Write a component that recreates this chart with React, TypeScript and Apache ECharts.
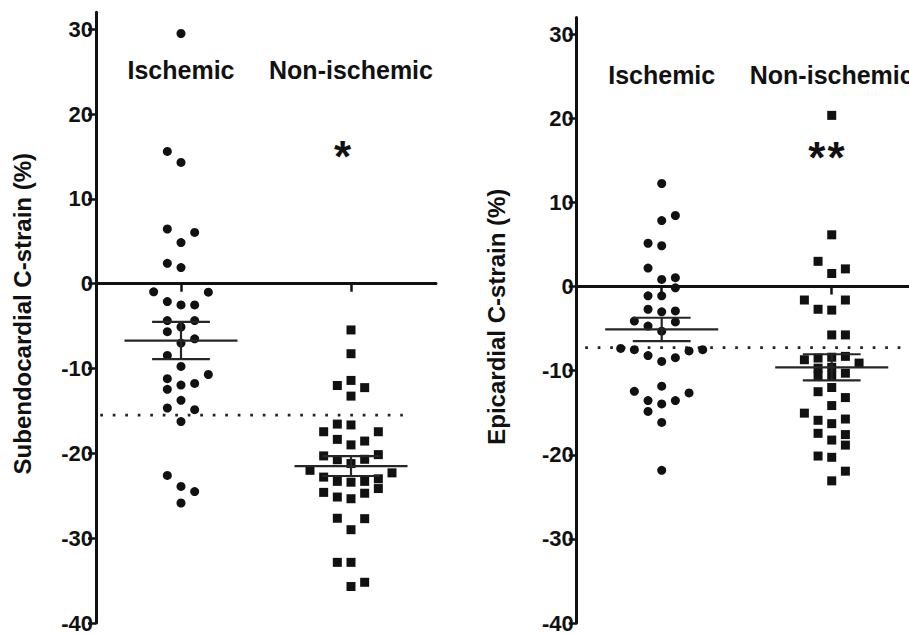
import React, { useEffect, useRef } from 'react';
import * as echarts from 'echarts';

// ---------- data ----------
const categories = ['Ischemic', 'Non-ischemic'];
const categoryX = [1, 3];
const yTicks = [-40, -30, -20, -10, 0, 10, 20, 30];
const panelTitles = ['Subendocardial C-strain (%)', 'Epicardial C-strain (%)'];

// Subendocardial panel
const subIschValues = [29.5, 15.6, 14.3, 6.45, 6.05, 4.85, 2.4, 1.9, -0.95, -1.0, -2.1, -2.5, -2.5, -4.35, -4.35, -5.1, -5.65, -6.5, -7.0, -8.45, -9.75, -10.7, -11.2, -11.95, -11.75, -12.45, -13.75, -14.65, -14.85, -16.25, -22.6, -23.9, -24.5, -25.85];
const subIschSlots = [0, -1, 0, -1, 1, 0, -1, 0, -2, 2, -1, 0, 1, -1, 1, 0, -1, 1, 0, -1, 0, 2, -1, 0, 1, -1, 0, -1, 1, 0, -1, 0, 1, 0];
const subNonValues = [-5.45, -8.25, -12.0, -11.4, -12.25, -13.25, -16.55, -16.65, -17.45, -17.45, -18.35, -18.55, -19.0, -20.3, -20.15, -20.75, -20.7, -21.2, -22.0, -22.3, -22.8, -23.3, -23.4, -23.3, -23.0, -24.15, -24.6, -25.15, -25.35, -24.7, -27.65, -27.7, -29.0, -32.85, -32.85, -35.7, -35.2];
const subNonSlots = [0, 0, -1, 0, 1, 0, -1, 0, -2, 2, -1, 1, 0, -2, 2, -1, 1, 0, -3, 3, -2, -1, 0, 1, 2, 2, -2, -1, 0, 1, -1, 1, 0, -1, 0, 0, 1];
const subMeans = [-6.7, -21.5];
const subSems = [2.2, 1.17];
const subThreshold = -15.5;
const subStars = ['*'];
const subStarX = [2.9];
const subStarY = 15.9;

// Epicardial panel
const epiIschValues = [12.25, 7.85, 8.45, 5.15, 4.85, 2.2, 0.85, 1.05, -0.15, -1.1, -1.1, -2.7, -3.0, -2.9, -4.1, -4.2, -4.7, -5.3, -7.35, -7.5, -8.2, -8.9, -8.45, -7.65, -7.5, -12.45, -11.85, -12.65, -13.55, -13.95, -13.55, -14.85, -16.15, -21.85];
const epiIschSlots = [0, 0, 1, -1, 0, -1, 0, 1, 1, -1, 0, -1, 0, 1, -2, 1, -1, 0, -3, -2, -1, 0, 1, 2, 3, -2, 0, 2, -1, 0, 1, -1, 0, 0];
const epiNonValues = [20.35, 6.15, 3.0, 1.55, 2.1, -1.6, -1.6, -2.7, -2.8, -5.75, -5.75, -8.7, -8.5, -8.4, -8.3, -9.1, -9.7, -9.6, -10.6, -10.6, -10.3, -12.5, -12.0, -13.2, -14.15, -15.05, -15.9, -16.3, -15.75, -17.45, -18.25, -17.6, -18.85, -20.15, -20.3, -21.95, -23.1];
const epiNonSlots = [0, 0, -1, 0, 1, -2, 1, -1, 0, 0, 1, -2, -1, 0, 1, 2, -1, 0, -1, 0, 1, -1, 0, 1, 0, -2, -1, 0, 1, -1, 0, 1, 1, -1, 0, 1, 0];
const epiMeans = [-5.1, -9.6];
const epiSems = [1.39, 1.55];
const epiThreshold = -7.25;
const epiStars = ['*', '*'];
const epiStarX = [2.824, 3.05];
const epiStarY = 16.25;

const labelY = 25.2;

// ---------- styling / layout constants ----------
const SLOT = 0.1608; // horizontal jitter step in x-units
const MEAN_HALF = 0.665;
const CAP_HALF = 0.34;
const FONT = "'Liberation Sans', Arial, Helvetica, sans-serif";
const INK = '#111111';

const toPoints = (cx: number, values: number[], slots: number[]) =>
  values.map((v, i) => [cx + slots[i] * SLOT, v]);

const renderErrorBar = (params: any, api: any) => {
  const x = api.value(0);
  const m = api.value(1);
  const s = api.value(2);
  const c = api.coord([x, m]);
  const top = api.coord([x, m + s]);
  const bot = api.coord([x, m - s]);
  const hm = api.size([MEAN_HALF, 0])[0];
  const hc = api.size([CAP_HALF, 0])[0];
  const style = { stroke: '#262626', lineWidth: 2.2 };
  return {
    type: 'group',
    children: [
      { type: 'line', shape: { x1: c[0] - hm, y1: c[1], x2: c[0] + hm, y2: c[1] }, style },
      { type: 'line', shape: { x1: c[0], y1: top[1], x2: c[0], y2: bot[1] }, style },
      { type: 'line', shape: { x1: c[0] - hc, y1: top[1], x2: c[0] + hc, y2: top[1] }, style },
      { type: 'line', shape: { x1: c[0] - hc, y1: bot[1], x2: c[0] + hc, y2: bot[1] }, style },
    ],
  };
};

function panelSeries(
  idx: number,
  isch: number[][],
  non: number[][],
  means: number[],
  sems: number[],
  threshold: number,
  thrStart: number,
  thrEnd: number,
  stars: string[],
  starX: number[],
  starY: number
) {
  return [
    {
      type: 'line',
      xAxisIndex: idx,
      yAxisIndex: idx,
      data: [[thrStart, threshold], [thrEnd, threshold]],
      symbol: 'none',
      lineStyle: { color: '#222', width: 2.7, type: [2.7, 9.8], cap: 'butt', opacity: 1 },
      z: 1,
      silent: true,
    },
    {
      type: 'scatter',
      xAxisIndex: idx,
      yAxisIndex: idx,
      data: isch,
      symbol: 'circle',
      symbolSize: 9,
      itemStyle: { color: INK, opacity: 1 },
      z: 3,
    },
    {
      type: 'scatter',
      xAxisIndex: idx,
      yAxisIndex: idx,
      data: non,
      symbol: 'rect',
      symbolSize: 9,
      itemStyle: { color: INK, opacity: 1 },
      z: 3,
    },
    {
      type: 'custom',
      xAxisIndex: idx,
      yAxisIndex: idx,
      data: categoryX.map((x, i) => [x, means[i], sems[i]]),
      encode: { x: 0, y: 1 },
      renderItem: renderErrorBar,
      clip: false,
      z: 4,
    },
    {
      type: 'scatter',
      xAxisIndex: idx,
      yAxisIndex: idx,
      data: categoryX.map((x, i) => ({ value: [x, labelY], name: categories[i] })),
      symbolSize: 1,
      itemStyle: { color: 'transparent', opacity: 1 },
      label: {
        show: true,
        position: 'inside',
        formatter: '{b}',
        fontSize: 25,
        fontWeight: 'bold',
        fontFamily: FONT,
        color: INK,
        opacity: 1,
      },
      silent: true,
      z: 5,
    },
    {
      type: 'scatter',
      xAxisIndex: idx,
      yAxisIndex: idx,
      data: starX.map((x, i) => ({ value: [x, starY], name: stars[i] })),
      symbolSize: 1,
      itemStyle: { color: 'transparent', opacity: 1 },
      label: {
        show: true,
        position: 'inside',
        formatter: '{b}',
        fontSize: 44,
        fontWeight: 'bold',
        fontFamily: FONT,
        color: INK,
        opacity: 1,
        offset: [0, 8],
      },
      silent: true,
      z: 5,
    },
  ];
}

const makeX = (gridIndex: number, max: number) => ({
  type: 'value',
  gridIndex,
  min: 0,
  max,
  axisLine: { show: true, onZero: true, lineStyle: { color: INK, width: 3 } },
  axisTick: { show: true, customValues: categoryX, length: 8, lineStyle: { color: INK, width: 2.5 } },
  axisLabel: { show: false },
  splitLine: { show: false },
});

const makeY = (gridIndex: number) => ({
  type: 'value',
  gridIndex,
  min: -40,
  max: 32,
  interval: 10,
  axisLine: { show: true, onZero: false, lineStyle: { color: INK, width: 3 } },
  axisTick: { show: true, customValues: yTicks, length: 8, lineStyle: { color: INK, width: 2.5 } },
  axisLabel: {
    show: true,
    customValues: yTicks,
    fontSize: 22,
    fontWeight: 'bold',
    fontFamily: FONT,
    color: INK,
    margin: 3,
  },
  splitLine: { show: false },
});

export default function App() {
  const ref = useRef<HTMLDivElement>(null);
  useEffect(() => {
    if (!ref.current) return;
    const chart = echarts.init(ref.current, null, { renderer: 'svg' });
    const option = {
      animation: false,
      backgroundColor: '#ffffff',
      grid: [
        { left: 96, top: 12.3, width: 340, height: 612.7 },
        { left: 576.7, top: 17.4, width: 332.3, height: 607.6 },
      ],
      xAxis: [makeX(0, 4), makeX(1, 3.909)],
      yAxis: [makeY(0), makeY(1)],
      series: [
        ...panelSeries(
          0,
          toPoints(categoryX[0], subIschValues, subIschSlots),
          toPoints(categoryX[1], subNonValues, subNonSlots),
          subMeans,
          subSems,
          subThreshold,
          0.05,
          3.61,
          subStars,
          subStarX,
          subStarY
        ),
        ...panelSeries(
          1,
          toPoints(categoryX[0], epiIschValues, epiIschSlots),
          toPoints(categoryX[1], epiNonValues, epiNonSlots),
          epiMeans,
          epiSems,
          epiThreshold,
          0.1,
          3.909,
          epiStars,
          epiStarX,
          epiStarY
        ),
      ],
      graphic: [
        {
          type: 'text',
          x: 22,
          y: 313.7,
          rotation: Math.PI / 2,
          style: {
            text: panelTitles[0],
            fontSize: 24,
            fontWeight: 'bold',
            fontFamily: FONT,
            fill: INK,
            align: 'center',
            verticalAlign: 'middle',
          },
        },
        {
          type: 'text',
          x: 496.7,
          y: 316.7,
          rotation: Math.PI / 2,
          style: {
            text: panelTitles[1],
            fontSize: 24,
            fontWeight: 'bold',
            fontFamily: FONT,
            fill: INK,
            align: 'center',
            verticalAlign: 'middle',
          },
        },
      ],
    };
    chart.setOption(option as any);
    return () => chart.dispose();
  }, []);
  return (
    <div
      ref={ref}
      style={{ position: 'fixed', left: 0, top: 0, width: 909, height: 634, background: '#fff' }}
    />
  );
}
